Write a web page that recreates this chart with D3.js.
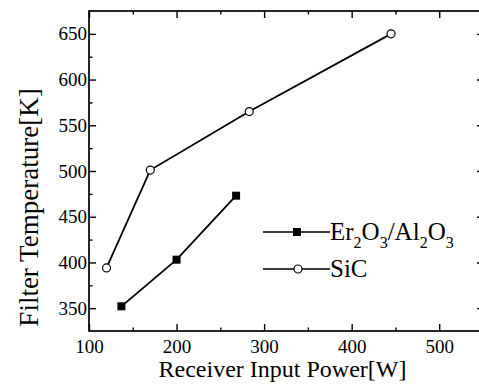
<!DOCTYPE html>
<html><head><meta charset="utf-8">
<script src="https://cdn.jsdelivr.net/npm/d3@7"></script>
<style>body{margin:0;background:#fff}svg{display:block}
svg text{font-family:"Liberation Serif","Times New Roman",Times,serif !important;}</style>
</head><body>
<script>
const sicX = [120, 170, 283, 445];
const sicY = [394, 501, 565, 650];
const erX = [137, 200, 268];
const erY = [352, 403, 473];
const xTicks = [100, 200, 300, 400, 500];
const yTicks = [350, 400, 450, 500, 550, 600, 650];
const xMinor = [150, 250, 350, 450];
const yMinor = [375, 425, 475, 525, 575, 625];

const W = 479, H = 390;
const m = {l: 89, t: 11, r: 483, b: 331};
const svg = d3.select("body").append("svg").attr("width", W).attr("height", H);
const x = d3.scaleLinear().domain([100, 550]).range([m.l, m.r]);
const y = d3.scaleLinear().domain([325, 675]).range([m.b, m.t]);

svg.append("rect").attr("x", m.l).attr("y", m.t).attr("width", m.r - m.l).attr("height", m.b - m.t)
  .attr("fill", "none").attr("stroke", "#000").attr("stroke-width", 1.7);

function axes(gen, tr, vals, size, labels) {
  const g = svg.append("g").attr("transform", tr)
    .call(gen.tickValues(vals).tickSizeInner(size).tickSizeOuter(0).tickFormat(labels ? d3.format("d") : ""));
  g.attr("font-family", null).attr("font-size", null);
  g.select(".domain").remove();
  g.selectAll("line").attr("stroke", "#000").attr("stroke-width", 1.4);
  g.selectAll("text").style("font-size", "19px").attr("fill", "#000");
  return g;
}
const gb = axes(d3.axisBottom(x), `translate(0,${m.b})`, xTicks, -7, true);
gb.selectAll("text").attr("y", 9).attr("dy", "0.71em");
axes(d3.axisBottom(x), `translate(0,${m.b})`, xMinor, -3.5, false);
axes(d3.axisTop(x), `translate(0,${m.t})`, xTicks, -7, false);
axes(d3.axisTop(x), `translate(0,${m.t})`, xMinor, -3.5, false);
const gl = axes(d3.axisLeft(y), `translate(${m.l},0)`, yTicks, -7, true);
gl.selectAll("text").attr("x", -2).attr("text-anchor", "end");
axes(d3.axisLeft(y), `translate(${m.l},0)`, yMinor, -3.5, false);
axes(d3.axisRight(y), `translate(${m.r},0)`, yTicks, -6, false);
axes(d3.axisRight(y), `translate(${m.r},0)`, yMinor, -3, false);

const line = d3.line();
const sic = sicX.map((v, i) => [x(v), y(sicY[i])]);
const er = erX.map((v, i) => [x(v), y(erY[i])]);
svg.append("path").attr("d", line(sic)).attr("fill", "none").attr("stroke", "#000").attr("stroke-width", 1.8);
svg.append("path").attr("d", line(er)).attr("fill", "none").attr("stroke", "#000").attr("stroke-width", 1.8);
svg.selectAll(".sq").data(er).enter().append("rect")
  .attr("x", d => d[0] - 4).attr("y", d => d[1] - 4).attr("width", 8).attr("height", 8).attr("fill", "#000");
svg.selectAll(".ci").data(sic).enter().append("circle")
  .attr("cx", d => d[0]).attr("cy", d => d[1]).attr("r", 4).attr("fill", "#fff").attr("stroke", "#000").attr("stroke-width", 1.2);

const lg = svg.append("g");
lg.append("line").attr("x1", 263).attr("x2", 330).attr("y1", 232).attr("y2", 232).attr("stroke", "#000").attr("stroke-width", 1.3);
lg.append("rect").attr("x", 293).attr("y", 228).attr("width", 8).attr("height", 8).attr("fill", "#000");
lg.append("line").attr("x1", 263).attr("x2", 330).attr("y1", 269).attr("y2", 269).attr("stroke", "#000").attr("stroke-width", 1.3);
lg.append("circle").attr("cx", 298).attr("cy", 269).attr("r", 4).attr("fill", "#fff").attr("stroke", "#000").attr("stroke-width", 1.2);

const t1 = lg.append("text").attr("x", 330).attr("y", 240).style("font-size", "25px").attr("fill", "#000");
const parts = [["Er", 0], ["2", 1], ["O", 0], ["3", 1], ["/Al", 0], ["2", 1], ["O", 0], ["3", 1]];
parts.forEach(([s, sub], i) => {
  const ts = t1.append("tspan").text(s);
  if (sub) ts.style("font-size", "16px").attr("dy", 8);
  else if (i > 0) ts.attr("dy", -8);
});
lg.append("text").attr("x", 330).attr("y", 277).style("font-size", "25px").attr("fill", "#000").text("SiC");

svg.append("text").attr("x", 282.5).attr("y", 377).attr("text-anchor", "middle")
  .style("font-size", "24px").attr("fill", "#000").text("Receiver Input Power[W]");
svg.append("text").attr("transform", "translate(38,207.5) rotate(-90)").attr("text-anchor", "middle")
  .style("font-size", "27px").attr("fill", "#000").text("Filter Temperature[K]");
</script>
</body></html>
